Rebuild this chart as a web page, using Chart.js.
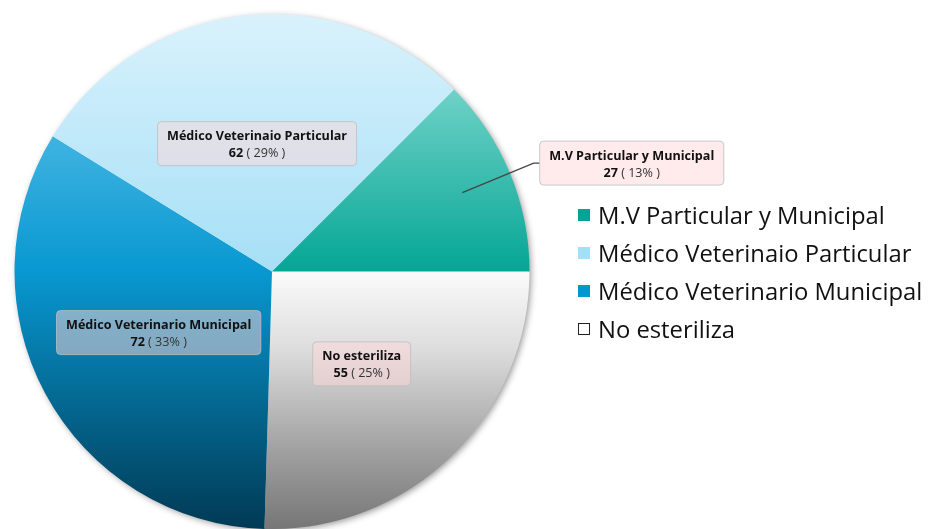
<!DOCTYPE html>
<html>
<head>
<meta charset="utf-8">
<script src="https://cdn.jsdelivr.net/npm/chart.js@4.4.1/dist/chart.umd.min.js"></script>
<style>
  html, body { margin: 0; padding: 0; background: #ffffff; overflow: hidden; }
  #wrap { position: relative; width: 930px; height: 529px; }
  #legend {
    position: absolute; left: 578px; top: 196px;
    font-family: "Open Sans", "Noto Sans", sans-serif; font-size: 23.8px; color: #111;
  }
  .item { display: flex; align-items: center; height: 38px; white-space: nowrap; }
  .swatch { width: 12px; height: 12px; margin-right: 8px; box-sizing: border-box; }
</style>
</head>
<body>
<div id="wrap">
  <canvas id="pieChart" width="930" height="529"></canvas>
  <div id="legend"></div>
</div>
<script>
// Datos del gráfico (orden de la leyenda)
const categorias = [
  "M.V Particular y Municipal",
  "Médico Veterinaio Particular",
  "Médico Veterinario Municipal",
  "No esteriliza",
];
const valores = [27, 62, 72, 55];
const coloresLeyenda = ["#00a396", "#a3e1f9", "#0096cf", "#ffffff"];

// Degradados verticales por porción (fracción de la altura del pastel)
const degradados = [
  [[0.15, "#6ed1c6"], [0.5, "#05a696"]],
  [[0.0, "#d9f2fc"], [0.5, "#a6dff6"]],
  [[0.25, "#3db2e0"], [0.5, "#0898d1"], [1.0, "#003a55"]],
  [[0.5, "#fbfbfb"], [0.65, "#dddddd"], [0.85, "#a0a0a0"], [1.0, "#767676"]],
];

const total = valores.reduce((a, b) => a + b, 0);

// El pastel se dibuja en sentido antihorario desde las 3, así que invertimos el orden
const orden = categorias.map((_, i) => i).reverse();

function crearDegradado(chart, idx) {
  const area = chart.chartArea;
  if (!area) return coloresLeyenda[idx];
  const g = chart.ctx.createLinearGradient(0, area.top, 0, area.bottom);
  degradados[idx].forEach(([f, c]) => g.addColorStop(f, c));
  return g;
}

// Sombra detrás del pastel
const sombraPastel = {
  id: "sombraPastel",
  beforeDatasetsDraw(chart) {
    const arc = chart.getDatasetMeta(0).data[0];
    if (!arc) return;
    const { x, y, outerRadius } = arc.getProps(["x", "y", "outerRadius"], true);
    const ctx = chart.ctx;
    ctx.save();
    ctx.shadowColor = "rgba(0,0,0,0.45)";
    ctx.shadowBlur = 7;
    ctx.shadowOffsetX = 2;
    ctx.shadowOffsetY = 2;
    ctx.fillStyle = "#ffffff";
    ctx.beginPath();
    ctx.arc(x, y, outerRadius - 1, 0, Math.PI * 2);
    ctx.fill();
    ctx.restore();
  },
};

// Etiquetas con nombre, valor y porcentaje
const etiquetas = {
  id: "etiquetas",
  afterDatasetsDraw(chart) {
    const ctx = chart.ctx;
    const meta = chart.getDatasetMeta(0);
    const fuente = '"Open Sans", "Noto Sans", sans-serif';
    const tam = 12.6;
    meta.data.forEach((arc, j) => {
      const idx = orden[j];
      const { x, y, startAngle, endAngle, outerRadius } = arc.getProps(
        ["x", "y", "startAngle", "endAngle", "outerRadius"], true);
      const mid = (startAngle + endAngle) / 2;
      const valor = valores[idx];
      const pct = Math.round((valor / total) * 100);
      const linea1 = categorias[idx];
      const numTxt = String(valor);
      const pctTxt = " ( " + pct + "% )";

      ctx.save();
      ctx.font = "bold " + tam + "px " + fuente;
      const w1 = ctx.measureText(linea1).width;
      const wNum = ctx.measureText(numTxt).width;
      ctx.font = tam + "px " + fuente;
      const wPct = ctx.measureText(pctTxt).width;
      const ancho = Math.max(w1, wNum + wPct) + 19;
      const alto = 44;

      let cx, cy;
      if (pct < 15) {
        // etiqueta exterior con línea guía
        const p1x = x + Math.cos(mid) * outerRadius * 0.8;
        const p1y = y + Math.sin(mid) * outerRadius * 0.8;
        const p2x = x + Math.cos(mid) * outerRadius * 1.1;
        const p2y = y + Math.sin(mid) * outerRadius * 1.1;
        ctx.strokeStyle = "#444444";
        ctx.lineWidth = 1.2;
        ctx.beginPath();
        ctx.moveTo(p1x, p1y);
        ctx.lineTo(p2x, p2y);
        ctx.lineTo(p2x + 6, p2y);
        ctx.stroke();
        cx = p2x + 6 + ancho / 2;
        cy = p2y;
      } else {
        cx = x + Math.cos(mid) * outerRadius * 0.5;
        cy = y + Math.sin(mid) * outerRadius * 0.5;
      }

      ctx.fillStyle = "rgba(255, 215, 215, 0.5)";
      ctx.strokeStyle = "rgba(190, 190, 190, 0.8)";
      ctx.lineWidth = 1;
      ctx.beginPath();
      ctx.roundRect(cx - ancho / 2, cy - alto / 2, ancho, alto, 4);
      ctx.fill();
      ctx.stroke();

      ctx.textBaseline = "middle";
      ctx.textAlign = "left";
      ctx.fillStyle = "#111111";
      ctx.font = "bold " + tam + "px " + fuente;
      ctx.fillText(linea1, cx - w1 / 2, cy - 7);
      const x2 = cx - (wNum + wPct) / 2;
      ctx.fillText(numTxt, x2, cy + 10);
      ctx.font = tam + "px " + fuente;
      ctx.fillStyle = "#333333";
      ctx.fillText(pctTxt, x2 + wNum, cy + 10);
      ctx.restore();
    });
  },
};

const ctx = document.getElementById("pieChart").getContext("2d");
new Chart(ctx, {
  type: "pie",
  data: {
    labels: orden.map((i) => categorias[i]),
    datasets: [{
      data: orden.map((i) => valores[i]),
      backgroundColor: (c) => crearDegradado(c.chart, orden[c.dataIndex]),
      borderWidth: 0,
    }],
  },
  options: {
    responsive: false,
    animation: false,
    rotation: 90,
    layout: { padding: { left: 14, top: 14, right: 400, bottom: 0 } },
    plugins: {
      legend: { display: false },
      tooltip: { enabled: false },
    },
  },
  plugins: [sombraPastel, etiquetas],
});

// Leyenda en HTML
const leyenda = document.getElementById("legend");
categorias.forEach((nombre, i) => {
  const item = document.createElement("div");
  item.className = "item";
  const sw = document.createElement("span");
  sw.className = "swatch";
  sw.style.background = coloresLeyenda[i];
  if (i === 3) sw.style.border = "1.5px solid #222";
  const txt = document.createElement("span");
  txt.textContent = nombre;
  item.appendChild(sw);
  item.appendChild(txt);
  leyenda.appendChild(item);
});
</script>
</body>
</html>
